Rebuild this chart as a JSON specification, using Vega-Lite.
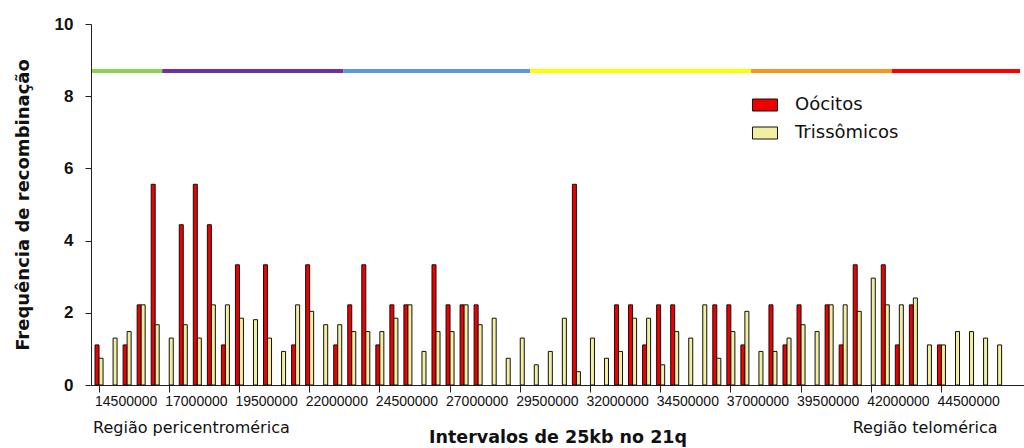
{
  "$schema": "https://vega.github.io/schema/vega-lite/v6.json",
  "width": 933,
  "height": 361,
  "autosize": {"type": "none"},
  "padding": {"left": 91, "top": 24, "right": 0, "bottom": 63},
  "config": {"view": {"stroke": null}, "font": "Liberation Sans"},
  "datasets": {
    "bars": [
      {"pos": 14500000, "s": "Oócitos", "f": 1.11}, {"pos": 14500000, "s": "Trissômicos", "f": 0.74},
      {"pos": 15000000, "s": "Trissômicos", "f": 1.30},
      {"pos": 15500000, "s": "Oócitos", "f": 1.11}, {"pos": 15500000, "s": "Trissômicos", "f": 1.48},
      {"pos": 16000000, "s": "Oócitos", "f": 2.22}, {"pos": 16000000, "s": "Trissômicos", "f": 2.22},
      {"pos": 16500000, "s": "Oócitos", "f": 5.56}, {"pos": 16500000, "s": "Trissômicos", "f": 1.67},
      {"pos": 17000000, "s": "Trissômicos", "f": 1.30},
      {"pos": 17500000, "s": "Oócitos", "f": 4.44}, {"pos": 17500000, "s": "Trissômicos", "f": 1.67},
      {"pos": 18000000, "s": "Oócitos", "f": 5.56}, {"pos": 18000000, "s": "Trissômicos", "f": 1.30},
      {"pos": 18500000, "s": "Oócitos", "f": 4.44}, {"pos": 18500000, "s": "Trissômicos", "f": 2.22},
      {"pos": 19000000, "s": "Oócitos", "f": 1.11}, {"pos": 19000000, "s": "Trissômicos", "f": 2.22},
      {"pos": 19500000, "s": "Oócitos", "f": 3.33}, {"pos": 19500000, "s": "Trissômicos", "f": 1.85},
      {"pos": 20000000, "s": "Trissômicos", "f": 1.81},
      {"pos": 20500000, "s": "Oócitos", "f": 3.33}, {"pos": 20500000, "s": "Trissômicos", "f": 1.30},
      {"pos": 21000000, "s": "Trissômicos", "f": 0.93},
      {"pos": 21500000, "s": "Oócitos", "f": 1.11}, {"pos": 21500000, "s": "Trissômicos", "f": 2.22},
      {"pos": 22000000, "s": "Oócitos", "f": 3.33}, {"pos": 22000000, "s": "Trissômicos", "f": 2.04},
      {"pos": 22500000, "s": "Trissômicos", "f": 1.67},
      {"pos": 23000000, "s": "Oócitos", "f": 1.11}, {"pos": 23000000, "s": "Trissômicos", "f": 1.67},
      {"pos": 23500000, "s": "Oócitos", "f": 2.22}, {"pos": 23500000, "s": "Trissômicos", "f": 1.48},
      {"pos": 24000000, "s": "Oócitos", "f": 3.33}, {"pos": 24000000, "s": "Trissômicos", "f": 1.48},
      {"pos": 24500000, "s": "Oócitos", "f": 1.11}, {"pos": 24500000, "s": "Trissômicos", "f": 1.48},
      {"pos": 25000000, "s": "Oócitos", "f": 2.22}, {"pos": 25000000, "s": "Trissômicos", "f": 1.85},
      {"pos": 25500000, "s": "Oócitos", "f": 2.22}, {"pos": 25500000, "s": "Trissômicos", "f": 2.22},
      {"pos": 26000000, "s": "Trissômicos", "f": 0.93},
      {"pos": 26500000, "s": "Oócitos", "f": 3.33}, {"pos": 26500000, "s": "Trissômicos", "f": 1.48},
      {"pos": 27000000, "s": "Oócitos", "f": 2.22}, {"pos": 27000000, "s": "Trissômicos", "f": 1.48},
      {"pos": 27500000, "s": "Oócitos", "f": 2.22}, {"pos": 27500000, "s": "Trissômicos", "f": 2.22},
      {"pos": 28000000, "s": "Oócitos", "f": 2.22}, {"pos": 28000000, "s": "Trissômicos", "f": 1.67},
      {"pos": 28500000, "s": "Trissômicos", "f": 1.85},
      {"pos": 29000000, "s": "Trissômicos", "f": 0.74},
      {"pos": 29500000, "s": "Trissômicos", "f": 1.30},
      {"pos": 30000000, "s": "Trissômicos", "f": 0.56},
      {"pos": 30500000, "s": "Trissômicos", "f": 0.93},
      {"pos": 31000000, "s": "Trissômicos", "f": 1.85},
      {"pos": 31500000, "s": "Oócitos", "f": 5.56}, {"pos": 31500000, "s": "Trissômicos", "f": 0.37},
      {"pos": 32000000, "s": "Trissômicos", "f": 1.30},
      {"pos": 32500000, "s": "Trissômicos", "f": 0.74},
      {"pos": 33000000, "s": "Oócitos", "f": 2.22}, {"pos": 33000000, "s": "Trissômicos", "f": 0.93},
      {"pos": 33500000, "s": "Oócitos", "f": 2.22}, {"pos": 33500000, "s": "Trissômicos", "f": 1.85},
      {"pos": 34000000, "s": "Oócitos", "f": 1.11}, {"pos": 34000000, "s": "Trissômicos", "f": 1.85},
      {"pos": 34500000, "s": "Oócitos", "f": 2.22}, {"pos": 34500000, "s": "Trissômicos", "f": 0.56},
      {"pos": 35000000, "s": "Oócitos", "f": 2.22}, {"pos": 35000000, "s": "Trissômicos", "f": 1.48},
      {"pos": 35500000, "s": "Trissômicos", "f": 1.30},
      {"pos": 36000000, "s": "Trissômicos", "f": 2.22},
      {"pos": 36500000, "s": "Oócitos", "f": 2.22}, {"pos": 36500000, "s": "Trissômicos", "f": 0.74},
      {"pos": 37000000, "s": "Oócitos", "f": 2.22}, {"pos": 37000000, "s": "Trissômicos", "f": 1.48},
      {"pos": 37500000, "s": "Oócitos", "f": 1.11}, {"pos": 37500000, "s": "Trissômicos", "f": 2.04},
      {"pos": 38000000, "s": "Trissômicos", "f": 0.93},
      {"pos": 38500000, "s": "Oócitos", "f": 2.22}, {"pos": 38500000, "s": "Trissômicos", "f": 0.93},
      {"pos": 39000000, "s": "Oócitos", "f": 1.11}, {"pos": 39000000, "s": "Trissômicos", "f": 1.30},
      {"pos": 39500000, "s": "Oócitos", "f": 2.22}, {"pos": 39500000, "s": "Trissômicos", "f": 1.67},
      {"pos": 40000000, "s": "Trissômicos", "f": 1.48},
      {"pos": 40500000, "s": "Oócitos", "f": 2.22}, {"pos": 40500000, "s": "Trissômicos", "f": 2.22},
      {"pos": 41000000, "s": "Oócitos", "f": 1.11}, {"pos": 41000000, "s": "Trissômicos", "f": 2.22},
      {"pos": 41500000, "s": "Oócitos", "f": 3.33}, {"pos": 41500000, "s": "Trissômicos", "f": 2.04},
      {"pos": 42000000, "s": "Trissômicos", "f": 2.96},
      {"pos": 42500000, "s": "Oócitos", "f": 3.33}, {"pos": 42500000, "s": "Trissômicos", "f": 2.22},
      {"pos": 43000000, "s": "Oócitos", "f": 1.11}, {"pos": 43000000, "s": "Trissômicos", "f": 2.22},
      {"pos": 43500000, "s": "Oócitos", "f": 2.22}, {"pos": 43500000, "s": "Trissômicos", "f": 2.41},
      {"pos": 44000000, "s": "Trissômicos", "f": 1.11},
      {"pos": 44500000, "s": "Oócitos", "f": 1.11}, {"pos": 44500000, "s": "Trissômicos", "f": 1.11},
      {"pos": 45000000, "s": "Trissômicos", "f": 1.48},
      {"pos": 45500000, "s": "Trissômicos", "f": 1.48},
      {"pos": 46000000, "s": "Trissômicos", "f": 1.30},
      {"pos": 46500000, "s": "Trissômicos", "f": 1.11}
    ],
    "segs": [
      {"start": 14.25, "end": 16.75, "seg": "1"},
      {"start": 16.75, "end": 23.2, "seg": "2"},
      {"start": 23.2, "end": 29.85, "seg": "3"},
      {"start": 29.85, "end": 37.72, "seg": "4"},
      {"start": 37.72, "end": 42.74, "seg": "5"},
      {"start": 42.74, "end": 47.3, "seg": "6"}
    ],
    "regions": [
      {"x": 17.79, "label": "Região pericentromérica"},
      {"x": 43.92, "label": "Região telomérica"}
    ]
  },
  "layer": [
    {
      "data": {"name": "bars"},
      "mark": {"type": "bar", "stroke": "#111111", "strokeWidth": 1},
      "encoding": {
        "x": {
          "field": "pos", "type": "ordinal",
          "scale": {"paddingInner": 0, "paddingOuter": 0.726, "align": 0.05},
          "axis": {
            "values": [14500000, 17000000, 19500000, 22000000, 24500000, 27000000, 29500000, 32000000, 34500000, 37000000, 39500000, 42000000, 44500000],
            "labelAngle": 0, "labelAlign": "left", "labelOffset": -4,
            "labelFontSize": 14, "labelColor": "#111111", "labelPadding": 2,
            "tickSize": 7, "tickColor": "#222222", "domainColor": "#222222",
            "title": "Intervalos de 25kb no 21q", "titleFont": "DejaVu Sans", "titleFontSize": 17.5, "titleFontWeight": "bold",
            "titleColor": "#111111", "titlePadding": 20
          }
        },
        "xOffset": {"field": "s", "type": "nominal", "scale": {"paddingInner": 0, "paddingOuter": 0.75}},
        "y": {
          "field": "f", "type": "quantitative",
          "scale": {"domain": [0, 10], "nice": false},
          "axis": {
            "values": [0, 2, 4, 6, 8, 10], "grid": false,
            "labelFontSize": 17, "labelFontWeight": "bold", "labelColor": "#111111", "labelPadding": 12,
            "tickSize": 6, "tickColor": "#222222", "domainColor": "#222222",
            "title": "Frequência de recombinação", "titleFont": "DejaVu Sans", "titleFontSize": 18, "titleFontWeight": "bold",
            "titleColor": "#111111", "titlePadding": 22
          }
        },
        "color": {
          "field": "s", "type": "nominal",
          "scale": {"domain": ["Oócitos", "Trissômicos"], "range": ["#ee0000", "#f3efa0"]},
          "legend": {
            "orient": "none", "legendX": 661, "legendY": 68, "title": null, "padding": 0,
            "symbolType": "M-1,-0.48H1V0.48H-1Z", "symbolSize": 625,
            "symbolStrokeColor": "#111111", "symbolStrokeWidth": 1, "symbolOpacity": 1,
            "labelFont": "DejaVu Sans", "labelFontSize": 18, "labelColor": "#111111", "labelOffset": 17, "rowPadding": 6
          }
        }
      }
    },
    {
      "data": {"name": "segs"},
      "mark": {"type": "rule", "strokeWidth": 4},
      "encoding": {
        "x": {"field": "start", "type": "quantitative", "scale": {"domain": [14.215, 47.44], "nice": false, "zero": false}, "axis": null},
        "x2": {"field": "end"},
        "y": {"datum": 8.7, "type": "quantitative"},
        "stroke": {
          "field": "seg", "type": "nominal",
          "scale": {"domain": ["1", "2", "3", "4", "5", "6"], "range": ["#92d050", "#7030a0", "#5b9bd5", "#ffff00", "#f7961e", "#ff0000"]},
          "legend": null
        }
      }
    },
    {
      "data": {"name": "regions"},
      "mark": {"type": "text", "font": "DejaVu Sans", "fontSize": 16, "color": "#111111", "align": "center", "baseline": "middle"},
      "encoding": {
        "x": {"field": "x", "type": "quantitative", "scale": {"domain": [14.215, 47.44], "nice": false, "zero": false}, "axis": null},
        "y": {"datum": -1.19, "type": "quantitative"},
        "text": {"field": "label"}
      }
    }
  ],
  "resolve": {"scale": {"x": "independent"}, "axis": {"x": "independent"}}
}
